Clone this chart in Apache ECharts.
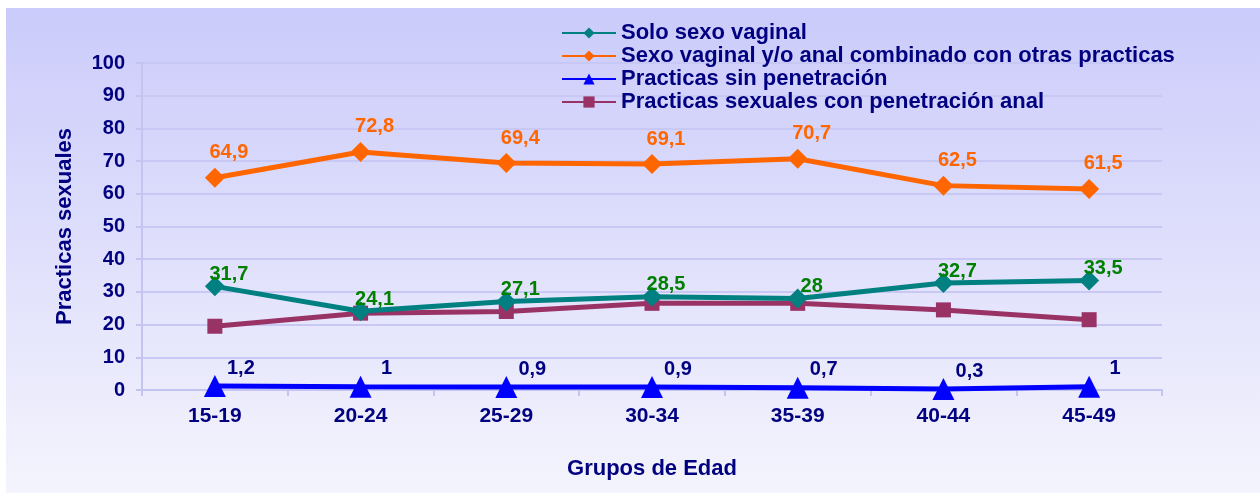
<!DOCTYPE html>
<html>
<head>
<meta charset="utf-8">
<script src="https://cdn.jsdelivr.net/npm/echarts@6/dist/echarts.min.js"></script>
<style>
  html, body { margin: 0; padding: 0; background: #fff; }
  #chart { width: 1260px; height: 493px; }
</style>
</head>
<body>
<div id="chart"></div>
<script>
// datos
const gruposEdad = ['15-19', '20-24', '25-29', '30-34', '35-39', '40-44', '45-49']
const soloVaginal = [31.7, 24.1, 27.1, 28.5, 28, 32.7, 33.5]
const combinado = [64.9, 72.8, 69.4, 69.1, 70.7, 62.5, 61.5]
const sinPenetracion = [1.2, 1, 0.9, 0.9, 0.7, 0.3, 1]
const penetracionAnal = [19.5, 23.5, 24, 26.5, 26.5, 24.5, 21.5]

const fuente = "'Liberation Sans', Arial, sans-serif"
const azulOscuro = '#000080'

// numero con coma decimal
function coma(p) {
  return String(p.value).replace('.', ',')
}

const chart = echarts.init(document.getElementById('chart'))

chart.setOption({
  animation: false,
  textStyle: { fontFamily: fuente },
  graphic: [{
    type: 'rect',
    z: -10,
    shape: { x: 6, y: 8, width: 1254, height: 485 },
    style: {
      fill: new echarts.graphic.LinearGradient(0, 0, 0, 1, [
        { offset: 0, color: '#cbcbfb' },
        { offset: 1, color: '#f4f4fd' }
      ])
    }
  }],
  legend: {
    orient: 'vertical',
    left: 556,
    top: 17,
    itemWidth: 54,
    itemHeight: 14,
    itemGap: 1,
    textStyle: { fontSize: 22, fontWeight: 'bold', color: azulOscuro, fontFamily: fuente },
    data: [
      'Solo sexo vaginal',
      'Sexo vaginal y/o anal combinado con otras practicas',
      'Practicas sin penetración',
      'Practicas sexuales con penetración anal'
    ]
  },
  grid: { left: 142, right: 98, top: 63, bottom: 103 },
  xAxis: {
    type: 'category',
    data: gruposEdad,
    boundaryGap: true,
    name: 'Grupos de Edad',
    nameLocation: 'middle',
    nameGap: 68,
    nameTextStyle: { fontSize: 22, fontWeight: 'bold', color: azulOscuro },
    axisLine: { lineStyle: { color: '#c4c4f0', width: 2 } },
    axisTick: { show: true, length: 6, lineStyle: { color: '#c4c4f0', width: 2 } },
    axisLabel: { fontSize: 21, fontWeight: 'bold', color: azulOscuro, margin: 16 }
  },
  yAxis: {
    type: 'value',
    min: 0,
    max: 100,
    interval: 10,
    name: 'Practicas sexuales',
    nameLocation: 'middle',
    nameGap: 66,
    nameTextStyle: { fontSize: 22, fontWeight: 'bold', color: azulOscuro },
    axisLine: { show: true, lineStyle: { color: '#c4c4f0', width: 2 } },
    axisTick: { show: true, length: 6, lineStyle: { color: '#c4c4f0', width: 2 } },
    splitLine: { lineStyle: { color: '#c8c8f4', width: 2 } },
    axisLabel: { fontSize: 20, fontWeight: 'bold', color: azulOscuro, margin: 17 }
  },
  series: [
    {
      name: 'Solo sexo vaginal',
      type: 'line',
      data: soloVaginal,
      symbol: 'diamond',
      symbolSize: 20,
      itemStyle: { color: '#008080' },
      lineStyle: { width: 5, color: '#008080' },
      label: {
        show: true, position: 'top', offset: [14, 13],
        formatter: coma, fontSize: 20, fontWeight: 'bold', color: '#008000'
      },
      z: 4
    },
    {
      name: 'Sexo vaginal y/o anal combinado con otras practicas',
      type: 'line',
      data: combinado,
      symbol: 'diamond',
      symbolSize: 20,
      itemStyle: { color: '#ff6600' },
      lineStyle: { width: 5, color: '#ff6600' },
      label: {
        show: true, position: 'top', offset: [14, 0],
        formatter: coma, fontSize: 20, fontWeight: 'bold', color: '#ff6600'
      },
      z: 4
    },
    {
      name: 'Practicas sin penetración',
      type: 'line',
      data: sinPenetracion,
      symbol: 'triangle',
      symbolSize: 22,
      itemStyle: { color: '#0000ff' },
      lineStyle: { width: 5, color: '#0000ff' },
      label: {
        show: true, position: 'top', offset: [26, 8],
        formatter: coma, fontSize: 20, fontWeight: 'bold', color: azulOscuro
      },
      z: 4
    },
    {
      name: 'Practicas sexuales con penetración anal',
      type: 'line',
      data: penetracionAnal,
      symbol: 'rect',
      symbolSize: 15,
      itemStyle: { color: '#993366' },
      lineStyle: { width: 5, color: '#993366' },
      z: 3
    }
  ]
})
</script>
</body>
</html>
